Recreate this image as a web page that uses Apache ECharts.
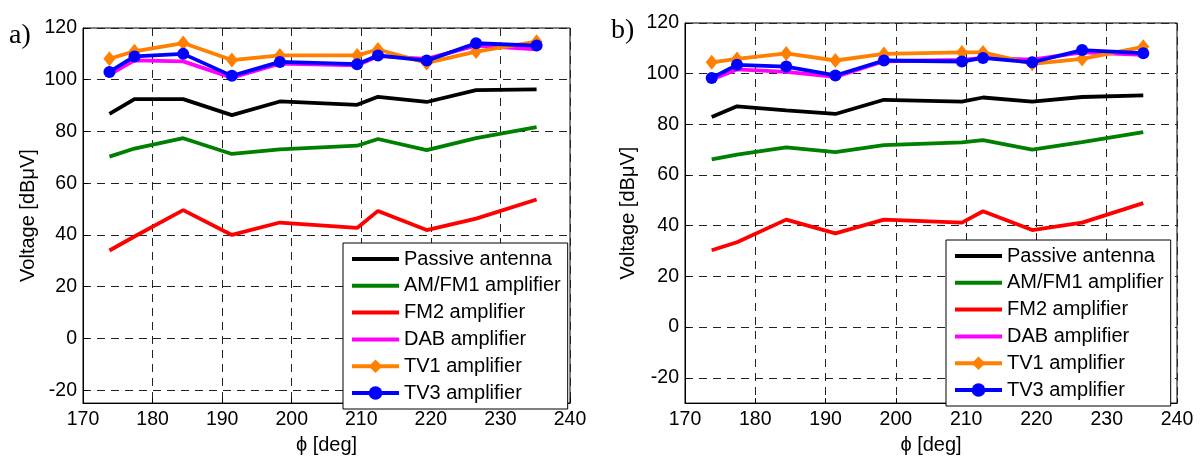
<!DOCTYPE html>
<html>
<head>
<meta charset="utf-8">
<script src="https://cdn.jsdelivr.net/npm/echarts@6/dist/echarts.min.js"></script>
<style>
html,body{margin:0;padding:0;background:#fff;}
#chart{width:1202px;height:460px;}
</style>
</head>
<body>
<div id="chart"></div>
<script>
// ---- data ----
var phi = [173.8, 177.4, 184.4, 191.4, 198.3, 209.4, 212.4, 219.4, 226.5, 235.2];
var seriesNames = ['Passive antenna', 'AM/FM1 amplifier', 'FM2 amplifier', 'DAB amplifier', 'TV1 amplifier', 'TV3 amplifier'];
var xTicks = [170, 180, 190, 200, 210, 220, 230, 240];
var yTicks = [-20, 0, 20, 40, 60, 80, 100, 120];
var panelLabels = ['a)', 'b)'];

// panel a)
var passiveA = [86.8, 92.5, 92.5, 86.3, 91.6, 90.3, 93.4, 91.4, 96.0, 96.3];
var amfm1A   = [70.3, 73.4, 77.4, 71.3, 73.1, 74.5, 77.1, 72.8, 77.4, 81.7];
var fm2A     = [34.0, 39.4, 49.6, 40.0, 44.8, 42.7, 49.3, 41.9, 46.3, 53.7];
var dabA     = [102.0, 107.5, 107.1, 100.8, 106.2, 105.6, 109.1, 108.1, 113.2, 111.7];
var tv1A     = [108.1, 111.0, 114.2, 107.6, 109.4, 109.4, 111.7, 106.5, 110.9, 114.7];
var tv3A     = [103.0, 109.0, 110.0, 101.5, 106.9, 106.0, 109.4, 107.4, 114.1, 113.2];

// panel b)
var passiveB = [82.9, 87.1, 85.5, 84.1, 89.7, 89.0, 90.6, 89.0, 90.8, 91.4];
var amfm1B   = [66.2, 68.1, 70.9, 69.0, 71.8, 72.9, 73.8, 70.0, 73.0, 76.9];
var fm2B     = [30.3, 33.5, 42.4, 37.0, 42.4, 41.2, 45.7, 38.3, 41.2, 48.9];
var dabB     = [97.7, 101.7, 100.7, 98.7, 104.9, 105.4, 106.2, 105.5, 108.4, 107.4];
var tv1B     = [104.5, 105.8, 108.0, 105.2, 107.8, 108.4, 108.4, 103.9, 105.8, 110.6];
var tv3B     = [98.3, 103.5, 102.8, 99.3, 105.2, 104.8, 106.2, 104.5, 109.3, 108.1];

// ---- build ----
var FONT = '"Liberation Sans", Arial, Helvetica, sans-serif';
var colors = ['#000000', '#008000', '#ff0000', '#ff00ff', '#ff8000', '#0000ff'];
function pairs(ys){ return phi.map(function(x,i){ return [x, ys[i]]; }); }

var panels = [
  {data:[passiveA, amfm1A, fm2A, dabA, tv1A, tv3A], ymin:-25, grid:{left:83, top:28, width:487, height:382}, legend:{left:343, top:243}},
  {data:[passiveB, amfm1B, fm2B, dabB, tv1B, tv3B], ymin:-30, grid:{left:685, top:23, width:492, height:386}, legend:{left:946, top:240}}
];

var legendData = seriesNames.map(function(n, i){
  if (i < 4) return {name:n, itemStyle:{color:'rgba(0,0,0,0)', borderColor:'rgba(0,0,0,0)', borderWidth:0}};
  return {name:n};
});

var grids=[], xAxes=[], yAxes=[], series=[], legends=[];
panels.forEach(function(p, gi){
  grids.push({left:p.grid.left, top:p.grid.top, width:p.grid.width, height:p.grid.height,
    show:true, borderColor:'#000', borderWidth:1, backgroundColor:'transparent'});
  xAxes.push({type:'value', gridIndex:gi, min:xTicks[0], max:xTicks[xTicks.length-1], interval:10,
    name:'\u03d5 [deg]', nameLocation:'middle', nameGap:29,
    nameTextStyle:{fontFamily:FONT, fontSize:20, color:'#000'},
    axisLine:{show:true, onZero:false, lineStyle:{color:'#000', width:1}},
    axisTick:{show:true, inside:true, length:5, lineStyle:{color:'#000'}},
    axisLabel:{fontFamily:FONT, fontSize:19.5, color:'#000', margin:7,
      formatter:function(v){ return xTicks.indexOf(v) >= 0 ? String(v) : ''; }},
    splitLine:{show:true, lineStyle:{color:'#222', width:1, type:[8,6]}}
  });
  yAxes.push({type:'value', gridIndex:gi, min:p.ymin, max:yTicks[yTicks.length-1], minInterval:20, maxInterval:20,
    name:'Voltage [dB\u03bcV]', nameLocation:'middle', nameGap: gi===0 ? 45 : 47, nameRotate:90,
    nameTextStyle:{fontFamily:FONT, fontSize:20, color:'#000'},
    axisLine:{show:true, onZero:false, lineStyle:{color:'#000', width:1}},
    axisTick:{show:true, inside:true, length:5, lineStyle:{color:'#000'}},
    axisLabel:{fontFamily:FONT, fontSize:19.5, color:'#000', margin:6,
      formatter:function(v){ return yTicks.indexOf(v) >= 0 ? String(v) : ''; }},
    splitLine:{show:true, lineStyle:{color:'#222', width:1, type:[8,6]}}
  });
  p.data.forEach(function(ys, si){
    var s = {type:'line', name:seriesNames[si], xAxisIndex:gi, yAxisIndex:gi, data:pairs(ys),
      color:colors[si], lineStyle:{color:colors[si], width:3.8}, animation:false,
      symbol:'none', showSymbol:false, z:2+si};
    if (si === 4) { s.symbol='diamond'; s.showSymbol=true; s.symbolSize=[12,15]; s.itemStyle={color:colors[si]}; }
    if (si === 5) { s.symbol='circle'; s.showSymbol=true; s.symbolSize=12; s.itemStyle={color:colors[si]}; }
    series.push(s);
  });
  legends.push({orient:'vertical', left:p.legend.left, top:p.legend.top,
    data:legendData, backgroundColor:'#fff', borderColor:'#000', borderWidth:1,
    padding:[6,7,6,7], itemWidth:47, itemHeight:17, itemGap:6.8, selectedMode:false,
    lineStyle:{width:4},
    textStyle:{fontFamily:FONT, fontSize:20, color:'#000', lineHeight:20}, z:10});
});

var chart = echarts.init(document.getElementById('chart'), null, {renderer:'canvas'});
chart.setOption({
  animation:false,
  backgroundColor:'#fff',
  grid:grids, xAxis:xAxes, yAxis:yAxes, series:series, legend:legends,
  graphic:[
    {type:'text', left:9, top:22, style:{text:panelLabels[0], font:'28px "Liberation Serif", "Times New Roman", serif', fill:'#000'}},
    {type:'text', left:611, top:17, style:{text:panelLabels[1], font:'28px "Liberation Serif", "Times New Roman", serif', fill:'#000'}}
  ]
});
</script>
</body>
</html>
